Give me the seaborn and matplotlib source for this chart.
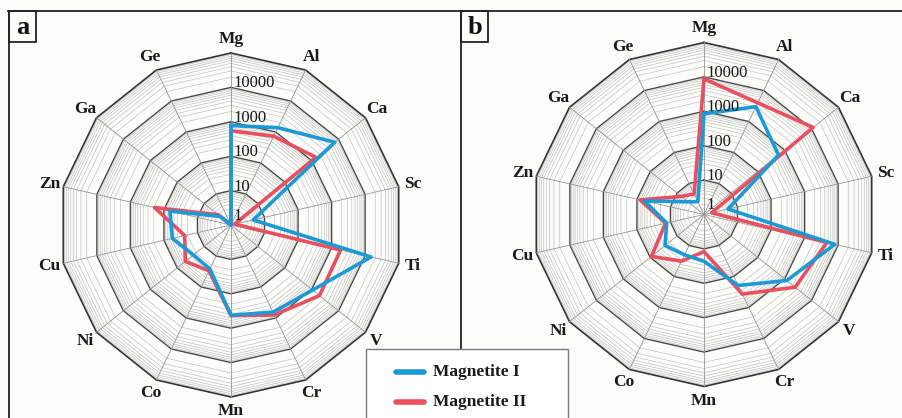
import numpy as np
import matplotlib
matplotlib.use("Agg")
import matplotlib.pyplot as plt
from matplotlib.lines import Line2D
from matplotlib.patches import Rectangle
from matplotlib.ticker import NullLocator
import seaborn as sns

# Trace-element contents (ppm) of the two magnetite generations
elements = ["Mg", "Al", "Ca", "Sc", "Ti", "V", "Cr", "Mn", "Co", "Ni", "Cu", "Zn", "Ga", "Ge"]
a_mag1 = [780, 1380, 7200, 4.6, 15000, 1080, 650, 420, 26, 25, 56, 66, 2.5, 1.0]
a_mag2 = [550, 730, 1430, 1.3, 1850, 1950, 800, 430, 30, 50, 24, 190, 3.0, 1.0]
b_mag1 = [850, 3000, 590, 5.2, 7900, 1200, 195, 23, 20, 28, 13, 60, 3.9, 2.6]
b_mag2 = [8800, 4000, 11500, 1.7, 4600, 2450, 370, 12, 32, 90, 14, 80, 7.0, 4.6]
series_names = ["Magnetite I", "Magnetite II"]
panel_letters = ["a", "b"]
tick_values = [1, 10, 100, 1000, 10000]
tick_labels = ["1", "10", "100", "1000", "10000"]

W, H = 902, 418
BLUE = "#1C9AD6"
RED = "#E8505F"
SERIF = ["Liberation Serif", "DejaVu Serif"]

fig = plt.figure(figsize=(W / 100, H / 100), dpi=100)
fig.patch.set_facecolor("#fcfcfa")

R = 172  # outer radius of the web, in pixels
centers = [(231, 225), (704, 214.5)]
panels = [(a_mag1, a_mag2), (b_mag1, b_mag2)]

n = len(elements)
theta = np.arange(n) * 2 * np.pi / n
theta_c = np.append(theta, 2 * np.pi)


def fx(px):
    return px / W


def fy(py):
    return 1 - py / H


for (cx, cy), (s1, s2) in zip(centers, panels):
    ax = fig.add_axes([fx(cx - R), (H - cy - R) / H, 2 * R / W, 2 * R / H],
                      projection="polar")
    ax.set_theta_zero_location("N")
    ax.set_theta_direction(-1)
    ax.set_rscale("log")
    ax.set_facecolor("none")
    ax.spines["polar"].set_visible(False)
    ax.grid(False)

    # minor polygon rings (2..9 of each decade)
    for d in range(5):
        for k in range(2, 10):
            ax.plot(theta_c, [k * 10 ** d] * (n + 1), color="#bdbdbd",
                    lw=0.45, zorder=1, clip_on=False)
    # decade rings
    for d in range(1, 6):
        ax.plot(theta_c, [10 ** d] * (n + 1),
                color="#333333" if d == 5 else "#4a4a4a",
                lw=1.2 if d == 5 else 1.0, zorder=2, clip_on=False)
    # spokes
    for t in theta:
        ax.plot([t, t], [1, 1e5], color="#959595", lw=0.6, zorder=2, clip_on=False)

    # data polygons
    for vals, col in ((s2, RED), (s1, BLUE)):
        v = np.append(vals, vals[0])
        sns.lineplot(x=theta_c, y=v, ax=ax, sort=False, estimator=None,
                     color=col, lw=2.6, zorder=5, clip_on=False)

    ax.set_rlim(1, 1e5)
    ax.set_xticks([])
    ax.set_yticks([])
    ax.yaxis.set_minor_locator(NullLocator())
    ax.set_xlabel("")
    ax.set_ylabel("")

    # element names around the web
    for t, name in zip(theta, elements):
        ax.text(t, 10 ** 5.41, name, ha="center", va="center", fontsize=12.5,
                fontweight="bold", family=SERIF, color="#1a1a1a")

    # radial scale labels along the Mg spoke
    for val, lab in zip(tick_values, tick_labels):
        off = 9 if val == 1 else 4
        ax.annotate(lab, xy=(0, val), xytext=(2, off), textcoords="offset pixels",
                    ha="left", va="center", fontsize=12, family=SERIF,
                    color="#1a1a1a", zorder=6)

# frame lines
frame_kw = dict(transform=fig.transFigure, color="#222222", lw=1.3)
fig.add_artist(Line2D([fx(8), 1], [fy(11), fy(11)], **frame_kw))
fig.add_artist(Line2D([fx(9), fx(9)], [fy(11), 0], **frame_kw))
fig.add_artist(Line2D([fx(461.5), fx(461.5)], [fy(11), fy(349)], **frame_kw))

# panel letters
for x0, letter in zip([9, 461.5], panel_letters):
    fig.add_artist(Rectangle((fx(x0), fy(42)), 27 / W, 31 / H, transform=fig.transFigure,
                             fill=False, ec="#222222", lw=1.3))
    fig.text(fx(x0 + 13.5), fy(27.5), letter, ha="center", va="center",
             fontsize=19, fontweight="bold", family=SERIF, color="#111111")

# legend box
fig.add_artist(Rectangle((fx(366), -0.05), (568 - 366) / W, fy(349) + 0.05,
                         transform=fig.transFigure, fc="white", ec="#7a7a7a",
                         lw=1.0, zorder=10))
for y, col, name in zip([372, 402], [BLUE, RED], series_names):
    fig.add_artist(Line2D([fx(396), fx(424)], [fy(y), fy(y)], transform=fig.transFigure,
                          color=col, lw=4, solid_capstyle="round", zorder=11))
    fig.text(fx(433), fy(y), name, ha="left", va="center", fontsize=12.5,
             fontweight="bold", family=SERIF, color="#1a1a1a", zorder=11)

fig.savefig("out.png", dpi=100, facecolor=fig.get_facecolor())
